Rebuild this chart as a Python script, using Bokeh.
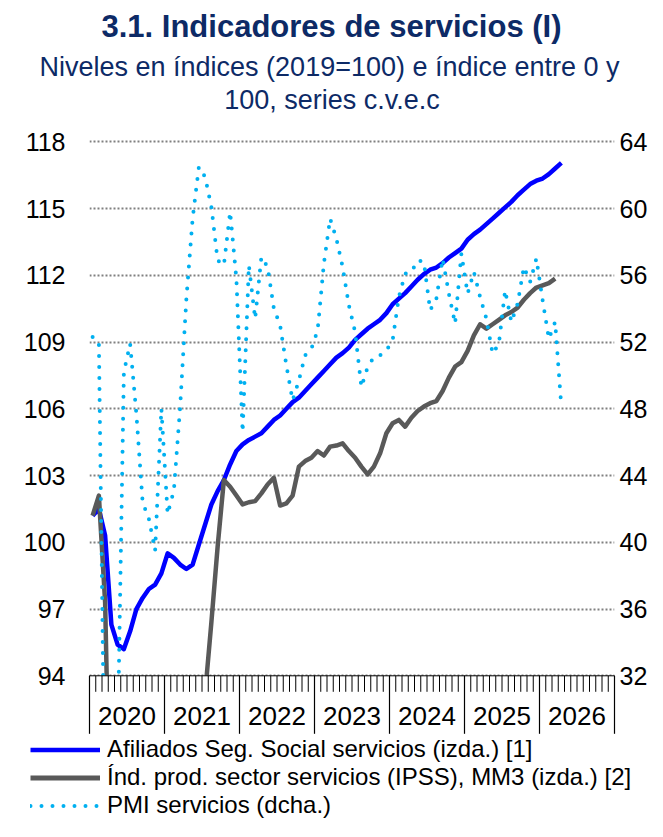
from bokeh.plotting import figure
from bokeh.layouts import column
from bokeh.models import (Range1d, LinearAxis, FixedTicker, Title, Legend, LegendItem,
                          BoxAnnotation)
from bokeh.embed import file_html
from bokeh.resources import INLINE

# ---------------- data ----------------
years = ["2020", "2021", "2022", "2023", "2024", "2025", "2026"]

# Afiliados Seg. Social servicios (izda.), monthly from Jan 2020
afiliados = [101.2, 101.5, 100.3, 96.3, 95.4, 95.2, 96.0, 97.0, 97.5, 97.9, 98.1, 98.6,
             99.5, 99.3, 99.0, 98.8, 99.0, 99.9, 100.8, 101.7, 102.3, 102.8, 103.5, 104.1,
             104.4, 104.6, 104.75, 104.9, 105.2, 105.5, 105.7, 106.0, 106.3, 106.5, 106.8, 107.1,
             107.4, 107.7, 108.0, 108.3, 108.5, 108.75, 109.1, 109.35, 109.6, 109.8, 110.0, 110.3,
             110.7, 110.95, 111.2, 111.5, 111.8, 112.05, 112.25, 112.35, 112.55, 112.8, 113.0, 113.2,
             113.6, 113.85, 114.05, 114.3, 114.55, 114.8, 115.05, 115.3, 115.6, 115.85, 116.1, 116.25,
             116.35, 116.55, 116.8, 117.05]

# Ind. prod. sector servicios (IPSS), MM3 (izda.)
ipss = [101.2, 102.1, 97.3, 84.0, 75.0, 73.0, 78.0, 84.0, 87.0, 88.5, 89.0, 89.0,
        88.5, 88.0, 88.0, 89.0, 90.0, 91.5, 93.2, 96.4, 99.8, 102.8, 102.5, 102.1,
        101.7, 101.8, 101.85, 102.2, 102.6, 102.9, 101.65, 101.75, 102.1, 103.4, 103.65, 103.8,
        104.1, 103.9, 104.3, 104.35, 104.45, 104.1, 103.8, 103.4, 103.05, 103.4, 104.0, 104.9,
        105.35, 105.5, 105.2, 105.6, 105.9, 106.1, 106.25, 106.35, 106.8, 107.4, 107.9, 108.1,
        108.6, 109.3, 109.8, 109.6, 109.8, 110.0, 110.2, 110.35, 110.55, 110.9, 111.2, 111.45,
        111.55, 111.65, 111.85]

# PMI servicios (dcha.)
pmi = [52.3, 52.0, 23.0, 7.1, 27.9, 50.2, 51.9, 47.7, 42.4, 41.4, 39.5, 48.0,
       41.7, 43.1, 48.1, 54.6, 59.4, 62.5, 61.9, 60.1, 56.9, 56.6, 59.8, 55.8,
       46.6, 56.6, 53.4, 57.1, 56.5, 54.0, 53.0, 50.6, 48.5, 49.7, 51.2, 51.6,
       52.7, 56.7, 59.4, 58.2, 56.5, 54.2, 52.6, 49.3, 50.5, 51.1, 51.2, 51.5,
       52.1, 54.7, 56.1, 56.2, 56.9, 56.8, 53.9, 54.6, 57.0, 54.9, 53.1, 57.3,
       54.9, 56.2, 54.7, 53.4, 51.3, 51.9, 55.1, 53.2, 54.3, 56.5, 55.6, 57.0,
       54.5, 52.2, 53.2, 48.1]

left_ticks = [94, 97, 100, 103, 106, 109, 112, 115, 118]
right_ticks = [32, 36, 40, 44, 48, 52, 56, 60, 64]

labels = ["Afiliados Seg. Social servicios (izda.) [1]",
          "Índ. prod. sector servicios (IPSS), MM3 (izda.) [2]",
          "PMI servicios (dcha.)"]
title = "3.1. Indicadores de servicios (I)"
subtitle1 = "Niveles en índices (2019=100) e índice entre 0 y"
subtitle2 = "100, series c.v.e.c"

# ---------------- geometry (pixels) ----------------
W = 647
LEFT = 89             # frame left edge
FRAME_W = 525
FRAME_TOP = 83        # frame starts under the two title lines
DATA_TOP = 143.3      # y of the 118 / 64 grid line
DATA_H = 534          # pixels between 94 and 118 (32 and 64)
FIG1_H = 737
LEG_H = 84
MONTH_TICK = 16
YEAR_TICK = 58
YEAR_LABEL = 40
SUB2_Y = 101          # centre of the second subtitle line
PAGE_CX = 331.5

FRAME_H = FIG1_H - FRAME_TOP
ppu_l = DATA_H / (left_ticks[-1] - left_ticks[0])
ppu_r = DATA_H / (right_ticks[-1] - right_ticks[0])
ext_top = DATA_TOP - FRAME_TOP
ext_bot = FRAME_H - ext_top - DATA_H
y_hi = left_ticks[-1] + ext_top / ppu_l
y_lo = left_ticks[0] - ext_bot / ppu_l
y2_hi = right_ticks[-1] + ext_top / ppu_r
y2_lo = right_ticks[0] - ext_bot / ppu_r
base = left_ticks[0]

n_months = 12 * len(years)
ppm = FRAME_W / n_months
x_af = [i + 0.5 for i in range(len(afiliados))]
x_ip = [i + 0.5 for i in range(len(ipss))]
x_pm = [i + 0.5 for i in range(len(pmi))]
boundaries = [12 * i for i in range(len(years) + 1)]
months = list(range(n_months + 1))
mids = [12 * i + 6 for i in range(len(years))]

FONT = "Liberation Sans"
NAVY = "#0D2A66"
BLUE = "#0000FF"
GREY = "#595959"
CYAN = "#00B0F0"

p = figure(frame_width=FRAME_W, frame_height=FRAME_H,
           x_range=Range1d(0, n_months), y_range=Range1d(y_lo, y_hi),
           x_axis_location=None,
           output_backend="svg", toolbar_location=None,
           min_border_left=LEFT, min_border_right=0, min_border_top=0, min_border_bottom=0,
           background_fill_color="white", border_fill_color="white")
p.outline_line_color = None
p.extra_y_ranges = {"pmi": Range1d(y2_lo, y2_hi)}

# grid
p.xgrid.grid_line_color = None
p.ygrid.ticker = FixedTicker(ticks=left_ticks)
p.ygrid.grid_line_color = "#808080"
p.ygrid.grid_line_width = 2
p.ygrid.grid_line_dash = "2 2"

# left axis
ya = p.yaxis[0]
ya.ticker = FixedTicker(ticks=left_ticks)
ya.axis_line_color = None
ya.major_tick_line_color = None
ya.minor_tick_line_color = None
ya.major_tick_in = 0
ya.major_tick_out = 0
ya.major_label_standoff = 24
ya.major_label_text_font = FONT
ya.major_label_text_font_size = "25px"
ya.major_label_text_color = "black"

# right axis
ra = LinearAxis(y_range_name="pmi", ticker=FixedTicker(ticks=right_ticks))
ra.axis_line_color = None
ra.major_tick_line_color = None
ra.minor_tick_line_color = None
ra.major_tick_in = 0
ra.major_tick_out = 0
ra.major_label_standoff = 5
ra.major_label_text_font = FONT
ra.major_label_text_font_size = "25px"
ra.major_label_text_color = "black"
p.add_layout(ra, "right")

# series
r_af = p.line(x_af, afiliados, line_color=BLUE, line_width=4.5, line_join="round")
r_ip = p.line(x_ip, ipss, line_color=GREY, line_width=4.5, line_join="round")
r_pm = p.line(x_pm, pmi, y_range_name="pmi", line_color=CYAN, line_width=4,
              line_dash="0 11", line_cap="round")

# everything under the 94 line is the time-axis band: hide the series there
p.add_layout(BoxAnnotation(top=base, fill_color="white", fill_alpha=1.0,
                           line_alpha=0, level="annotation"))

# time axis: axis line, month ticks, year-boundary ticks, year labels
p.segment(x0=[months[0]], x1=[months[-1]], y0=[base], y1=[base],
          line_color="black", line_width=1, level="overlay")
p.segment(x0=months, x1=months, y0=[base] * len(months),
          y1=[base - MONTH_TICK / ppu_l] * len(months),
          line_color="black", line_width=1, level="overlay")
p.segment(x0=boundaries, x1=boundaries, y0=[base] * len(boundaries),
          y1=[base - YEAR_TICK / ppu_l] * len(boundaries),
          line_color="black", line_width=1.2, level="overlay")
p.text(x=mids, y=[base - YEAR_LABEL / ppu_l] * len(mids), text=years,
       text_align="center", text_baseline="middle", text_font_size="26px",
       text_color="black", text_font={"value": FONT}, level="overlay")

# second subtitle line (inside the frame's top band)
p.text(x=[(PAGE_CX - LEFT) / ppm], y=[left_ticks[-1] + (DATA_TOP - SUB2_Y) / ppu_l],
       text=[subtitle2], text_align="center", text_baseline="middle",
       text_font_size="27px", text_color=NAVY, text_font={"value": FONT}, level="overlay")

# titles (inner-most first)
p.add_layout(Title(text=subtitle1, align="left", offset=-50, standoff=0,
                   text_font=FONT, text_font_size="27px", text_font_style="normal",
                   text_color=NAVY), "above")
p.add_layout(Title(text=title, align="left", offset=12, standoff=12,
                   text_font=FONT, text_font_size="31px", text_font_style="bold",
                   text_color=NAVY), "above")

# ---------------- legend strip ----------------
q = figure(frame_width=W, frame_height=LEG_H, x_axis_location=None, y_axis_location=None,
           x_range=Range1d(0, 1), y_range=Range1d(0, 1),
           output_backend="svg", toolbar_location=None,
           min_border_left=0, min_border_right=0, min_border_top=0, min_border_bottom=0,
           background_fill_color="white", border_fill_color="white")
q.outline_line_color = None
q.xgrid.visible = False
q.ygrid.visible = False
nan = float("nan")
k_af = q.line([nan], [nan], line_color=BLUE, line_width=4.5)
k_ip = q.line([nan], [nan], line_color=GREY, line_width=5)
k_pm = q.line([nan], [nan], line_color=CYAN, line_width=4, line_dash="0 11",
              line_cap="round")
legend = Legend(items=[LegendItem(label=labels[0], renderers=[k_af]),
                       LegendItem(label=labels[1], renderers=[k_ip]),
                       LegendItem(label=labels[2], renderers=[k_pm])],
                location=(30, 0), orientation="vertical",
                label_text_font=FONT, label_text_font_size="24px", label_text_color="black",
                glyph_width=70, glyph_height=27, label_height=27, label_standoff=7,
                spacing=0, padding=0, margin=0,
                border_line_color=None, background_fill_alpha=0)
q.add_layout(legend)

layout = column(p, q, spacing=0)
open("out.html", "w").write(file_html(layout, INLINE))
